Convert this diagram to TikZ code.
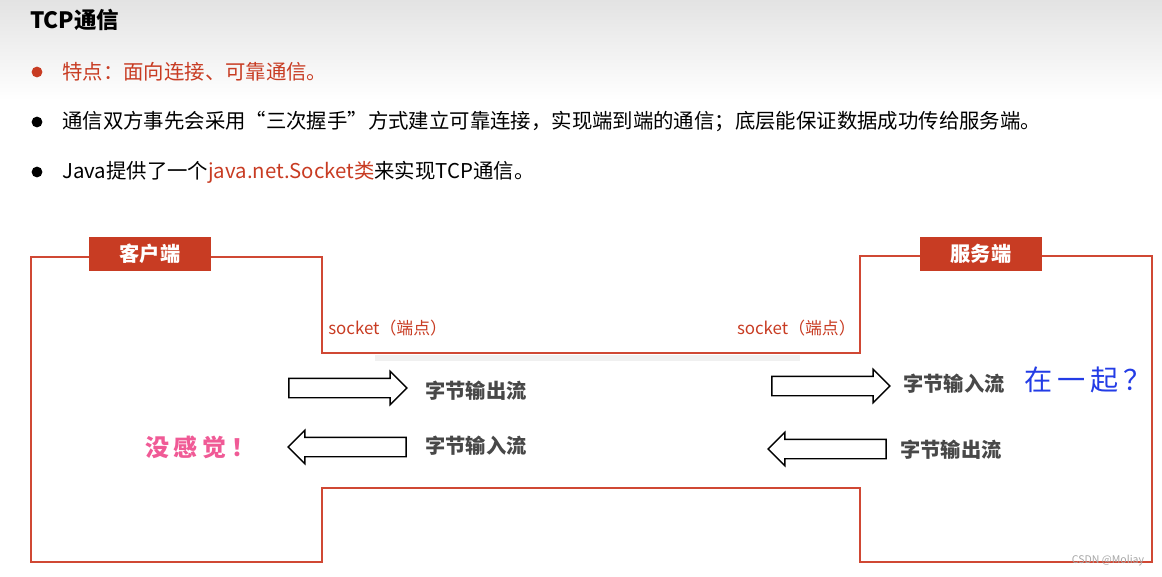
\documentclass[tikz,border=0pt]{standalone}
\usepackage{fontspec}
\setmainfont{Noto Sans CJK SC}
\newfontfamily\pinkhand[LetterSpace=20]{Noto Sans CJK SC}
\newfontfamily\bluehand[LetterSpace=18]{Noto Sans CJK SC}
\usepackage{tikz}
\usetikzlibrary{shapes.arrows, positioning}
\definecolor{pptred}{RGB}{200,60,35}
\definecolor{linered}{RGB}{208,72,52}
\definecolor{streamgray}{RGB}{72,72,72}
\definecolor{handblue}{RGB}{35,60,230}
\definecolor{handpink}{RGB}{240,90,150}

\begin{document}
\begin{tikzpicture}[x=0.025cm, y=-0.025cm,
        txt/.style={anchor=west, inner sep=0, font=\fontsize{14.5}{17}\selectfont},
        dot/.style={circle, fill, inner sep=0, minimum size=0.27cm},
        tag/.style={fill=pptred, text=white, font=\fontsize{14.4}{17}\selectfont\bfseries, minimum width=3.05cm, minimum height=0.85cm, inner sep=0},
        sock/.style={text=pptred, inner sep=0, font=\fontsize{12}{14}\selectfont},
        flow/.style={single arrow, draw, fill=white, line width=1pt, inner xsep=0, inner ysep=0.225cm, minimum height=2.95cm, single arrow head extend=0.175cm},
        stream/.style={anchor=west, inner sep=0, text=streamgray, font=\fontsize{14.4}{17}\selectfont\bfseries}
    ]
    \useasboundingbox (0,0) rectangle (1162,577);
    \shade[top color=black!11, bottom color=white] (0,0) rectangle (1162,100);

    \node[anchor=west, inner sep=0, font=\fontsize{16}{19}\selectfont\bfseries] (title) at (30,20) {TCP通信};

    \node[dot, fill=pptred] (b1) at (37,72) {};
    \node[txt, text=pptred] (feature) at (62,72) {特点：面向连接、可靠通信。};
    \node[dot] (b2) at (37,122) {};
    \node[txt] (shake) at (62,122) {通信双方事先会采用“三次握手”方式建立可靠连接，实现端到端的通信；底层能保证数据成功传给服务端。};
    \node[dot] (b3) at (37,172) {};
    \node[txt] (java) at (62,172) {Java提供了一个{\color{pptred}java.net.Socket类}来实现TCP通信。};

    \draw[black!6, line width=4pt] (375,358) -- (800,358);
    \draw[linered, line width=1.5pt] (31,257) -- (322,257) -- (322,353) -- (860,353) -- (860,256)
        -- (1152,256) -- (1152,562) -- (860,562) -- (860,488) -- (322,488) -- (322,562) -- (31,562) -- cycle;

    \node[tag] (client) at (150,254) {客户端};
    \node[tag] (server) at (981,254) {服务端};
    \node[sock, anchor=west] (sockL) at (328,328) {socket（端点）};
    \node[sock, anchor=east] (sockR) at (856,328) {socket（端点）};

    \node[flow] (outL) at (343,388) {};
    \node[flow, shape border rotate=180] (inL) at (352,447) {};
    \node[flow] (inR) at (826,386) {};
    \node[flow, shape border rotate=180] (outR) at (832,449) {};

    \node[stream] (outLtxt) at (425,391) {字节输出流};
    \node[stream] (inLtxt) at (425,446) {字节输入流};
    \node[stream] (inRtxt) at (903,384) {字节输入流};
    \node[stream] (outRtxt) at (900,450) {字节输出流};

    \node[text=handpink, font=\pinkhand\fontsize{17}{20}\selectfont\bfseries] (nofeel) at (200,447) {没感觉！};
    \node[text=handblue, font=\bluehand\fontsize{20}{24}\selectfont] (together) at (1088,380) {在一起？};

    \node[text=black!35, inner sep=0, font=\fontsize{7.5}{9}\selectfont] (mark) at (1108,561) {CSDN @Moliay};
\end{tikzpicture}
\end{document}
